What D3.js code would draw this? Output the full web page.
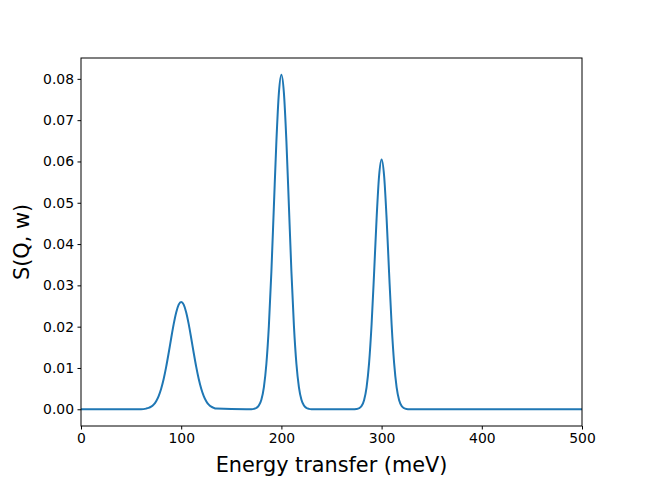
<!DOCTYPE html>
<meta charset="utf-8">
<head>
	<title>S(Q, w)</title>
</head>

<style>
	body { margin: 0; background: #fff; }
	text { font-family: "DejaVu Sans", sans-serif; }
</style>

<body>

<div id="chart"></div>

<script src="https://d3js.org/d3.v7.min.js"></script>
<script>

// energy transfer samples (meV)
var energy = [0, 60,
	65, 67.5, 70, 72.5, 75, 77.5, 80, 82.5, 85, 87.5, 90, 92.5, 95, 97.5, 100,
	102.5, 105, 107.5, 110, 112.5, 115, 117.5, 120, 122.5, 125, 127.5, 130, 132.5, 135,
	165, 170, 172.5, 175, 177.5, 180, 182.5, 185, 187.5, 190, 192.5, 195, 197.5, 200,
	202.5, 205, 207.5, 210, 212.5, 215, 217.5, 220, 222.5, 225, 227.5, 230,
	270, 272.5, 275, 277.5, 280, 282.5, 285, 287.5, 290, 292.5, 295, 297.5, 300,
	302.5, 305, 307.5, 310, 312.5, 315, 317.5, 320, 322.5, 325, 327.5, 500];

// S(Q, w) at each sample
var sqw = [0, 0,
	0.00016, 0.00033, 0.00063, 0.00114, 0.00197, 0.00321, 0.00498, 0.00733, 0.01026, 0.01363, 0.01720, 0.02061, 0.02345, 0.02534, 0.02600,
	0.02534, 0.02345, 0.02061, 0.01720, 0.01363, 0.01026, 0.00733, 0.00498, 0.00321, 0.00197, 0.00114, 0.00063, 0.00033, 0.00016,
	0, 0.00003, 0.00010, 0.00031, 0.00090, 0.00231, 0.00532, 0.01096, 0.02020, 0.03330, 0.04913, 0.06486, 0.07662, 0.08100,
	0.07662, 0.06486, 0.04913, 0.03330, 0.02020, 0.01096, 0.00532, 0.00231, 0.00090, 0.00031, 0.00010, 0.00003,
	0, 0.00002, 0.00007, 0.00025, 0.00080, 0.00221, 0.00531, 0.01117, 0.02052, 0.03293, 0.04617, 0.05654, 0.06050,
	0.05654, 0.04617, 0.03293, 0.02052, 0.01117, 0.00531, 0.00221, 0.00080, 0.00025, 0.00007, 0.00002, 0];

var xTicks = [0, 100, 200, 300, 400, 500];
var yTicks = [0.00, 0.01, 0.02, 0.03, 0.04, 0.05, 0.06, 0.07, 0.08];

var width = 646, height = 480;
var margin = {left: 81, right: 64, top: 58, bottom: 54};
var plotW = width - margin.left - margin.right;
var plotH = height - margin.top - margin.bottom;

var svg = d3.select("#chart").append("svg")
	.attr("width", width)
	.attr("height", height);

var g = svg.append("g")
	.attr("transform", "translate(" + margin.left + "," + margin.top + ")");

var x = d3.scaleLinear().domain([0, 500]).range([0, plotW]);
// matplotlib style 5% margin on y
var yMax = d3.max(sqw);
var pad = yMax * 0.05;
var y = d3.scaleLinear().domain([-pad, yMax + pad]).range([plotH, 0]);

var points = energy.map(function(e, i) { return [e, sqw[i]]; });

var line = d3.line()
	.x(function(d) { return x(d[0]); })
	.y(function(d) { return y(d[1]); })
	.curve(d3.curveMonotoneX);

g.append("defs").append("clipPath").attr("id", "clip")
	.append("rect").attr("width", plotW).attr("height", plotH);

g.append("path")
	.datum(points)
	.attr("clip-path", "url(#clip)")
	.attr("fill", "none")
	.attr("stroke", "#1f77b4")
	.attr("stroke-width", 2)
	.attr("stroke-linejoin", "round")
	.attr("d", line);

var xAxis = g.append("g")
	.attr("transform", "translate(0," + plotH + ")")
	.call(d3.axisBottom(x).tickValues(xTicks).tickSize(3.5).tickPadding(3.5).tickFormat(d3.format("d")));

var yAxis = g.append("g")
	.call(d3.axisLeft(y).tickValues(yTicks).tickSize(3.5).tickPadding(3.5).tickFormat(d3.format(".2f")));

[xAxis, yAxis].forEach(function(a) {
	a.select(".domain").remove();
	a.selectAll(".tick line").attr("stroke", "#000").attr("stroke-width", 1);
	a.selectAll(".tick text")
		.attr("fill", "#000")
		.style("font-family", "'DejaVu Sans', sans-serif")
		.style("font-size", "13.9px");
});

// frame
g.append("rect")
	.attr("width", plotW)
	.attr("height", plotH)
	.attr("fill", "none")
	.attr("stroke", "#000")
	.attr("stroke-width", 1);

svg.append("text")
	.attr("x", margin.left + plotW / 2)
	.attr("y", 472)
	.attr("text-anchor", "middle")
	.style("font-size", "20.8px")
	.text("Energy transfer (meV)");

svg.append("text")
	.attr("transform", "translate(29," + (margin.top + plotH / 2) + ") rotate(-90)")
	.attr("text-anchor", "middle")
	.style("font-size", "20.8px")
	.text("S(Q, w)");

</script>
</body>
</html>
